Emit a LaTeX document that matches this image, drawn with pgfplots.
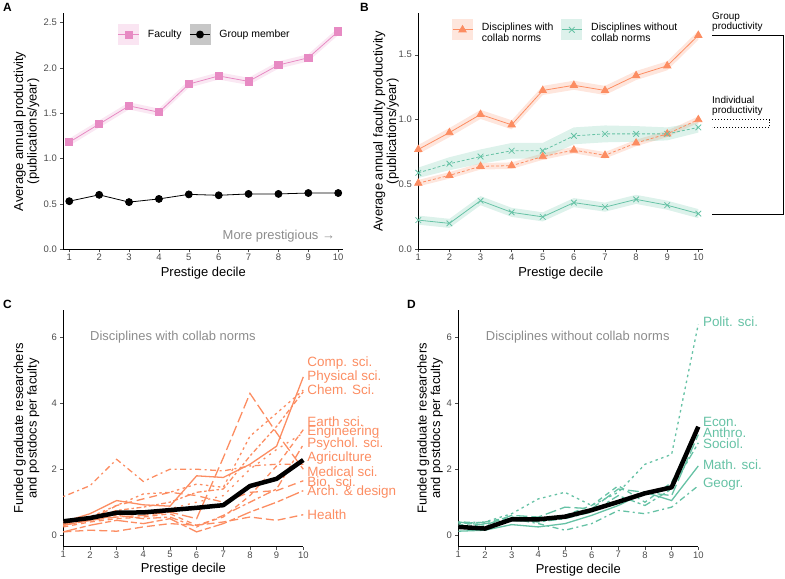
\documentclass[border=0pt]{standalone}
\usepackage{pgfplots}
\pgfplotsset{compat=1.18}
\usepgfplotslibrary{fillbetween}
\usepackage{pgfplotstable}
\usepackage{fontspec}
\setmainfont{Liberation Sans}
\definecolor{fac}{HTML}{E78AC3}
\definecolor{org}{HTML}{FC8D62}
\definecolor{grn}{HTML}{66C2A5}
\definecolor{tickgray}{HTML}{4D4D4D}
\definecolor{anngray}{HTML}{8C8C8C}

\pgfplotstableread{
x fac flo fhi grp
1 1.18 1.14 1.22 0.53
2 1.38 1.34 1.42 0.60
3 1.58 1.54 1.62 0.52
4 1.51 1.47 1.55 0.555
5 1.82 1.78 1.86 0.605
6 1.91 1.87 1.95 0.595
7 1.85 1.81 1.89 0.61
8 2.03 1.99 2.07 0.61
9 2.11 2.07 2.15 0.62
10 2.40 2.36 2.44 0.62
}\tA

\pgfplotstableread{
x cs cslo cshi ci cilo cihi ns nslo nshi ni nilo nihi
1 0.77 0.735 0.805 0.51 0.485 0.535 0.225 0.19 0.26 0.59 0.55 0.63
2 0.90 0.865 0.935 0.57 0.545 0.595 0.20 0.165 0.235 0.66 0.61 0.71
3 1.04 1.005 1.075 0.64 0.615 0.665 0.375 0.34 0.41 0.715 0.66 0.77
4 0.96 0.925 0.995 0.645 0.62 0.67 0.285 0.25 0.32 0.76 0.70 0.82
5 1.225 1.19 1.26 0.715 0.69 0.74 0.25 0.215 0.285 0.76 0.70 0.82
6 1.265 1.23 1.30 0.765 0.74 0.79 0.36 0.325 0.395 0.875 0.81 0.94
7 1.225 1.19 1.26 0.725 0.70 0.75 0.325 0.29 0.36 0.89 0.825 0.955
8 1.34 1.305 1.375 0.82 0.795 0.845 0.385 0.35 0.42 0.89 0.83 0.95
9 1.415 1.38 1.45 0.89 0.865 0.915 0.34 0.305 0.375 0.89 0.84 0.94
10 1.65 1.615 1.685 1.00 0.975 1.025 0.275 0.24 0.31 0.94 0.90 0.98
}\tB

\pgfplotstableread{
x comp phys chem earth eng psych agri med bio arch health mean
1 0.40 0.30 0.35 0.25 0.45 0.30 1.17 0.30 0.35 0.10 0.10 0.42
2 0.65 0.55 0.50 0.40 0.55 0.45 1.50 0.45 0.45 0.30 0.15 0.52
3 1.05 0.90 0.75 0.50 0.70 0.60 2.30 0.55 0.90 0.45 0.12 0.68
4 0.92 1.25 0.85 0.55 0.70 0.50 1.63 0.60 1.10 0.35 0.25 0.69
5 0.88 1.30 1.00 0.65 0.80 0.55 2.00 0.70 1.30 0.50 0.35 0.76
6 1.80 1.55 1.30 0.30 1.00 0.25 2.00 0.50 1.20 0.10 0.30 0.83
7 1.75 1.45 1.40 0.55 1.20 0.60 1.95 2.35 1.00 0.35 0.40 0.91
8 2.15 3.00 2.40 1.20 2.00 1.00 2.10 4.30 1.30 0.70 0.55 1.49
9 2.70 3.70 3.30 2.10 2.60 1.40 2.15 3.10 1.35 1.00 0.45 1.71
10 4.80 4.40 4.35 3.20 3.10 2.75 2.15 2.00 1.65 1.35 0.62 2.28
}\tC

\pgfplotstableread{
x polit econ anthro sociol math geogr mean
1 0.35 0.30 0.40 0.20 0.12 0.40 0.25
2 0.40 0.40 0.30 0.35 0.15 0.38 0.20
3 0.65 0.55 0.60 0.45 0.32 0.50 0.48
4 1.10 0.50 0.55 0.40 0.25 0.35 0.48
5 1.30 0.60 0.85 0.50 0.35 0.15 0.56
6 0.90 0.90 0.80 0.70 0.60 0.35 0.76
7 1.30 1.50 1.40 1.20 0.90 0.75 1.01
8 2.15 1.00 1.30 0.90 1.30 0.65 1.27
9 2.45 1.60 1.20 1.40 1.05 0.85 1.45
10 6.40 3.30 3.05 2.80 2.10 1.50 3.29
}\tD

\tikzset{
 lt1/.style={solid},
 lt2/.style={dash pattern=on 5bp off 4bp},
 lt3/.style={dash pattern=on 8bp off 4bp},
 lt4/.style={dash pattern=on 2.5bp off 3.5bp},
 lt5/.style={dash pattern=on 2bp off 3.5bp on 6bp off 3.5bp},
 lt6/.style={dash pattern=on 11bp off 4bp},
 lt7/.style={dash pattern=on 3bp off 3bp on 8bp off 3bp},
 lt8/.style={dash pattern=on 5bp off 2.5bp on 2.5bp off 2.5bp},
 lt9/.style={dash pattern=on 14bp off 3bp on 6bp off 3bp},
 lt10/.style={dash pattern=on 2bp off 5bp},
 lt11/.style={dash pattern=on 8bp off 5bp},
}

\pgfplotsset{
  base/.style={
    scale only axis,
    axis lines=left,
    axis line style={-, line width=0.6pt, black},
    tick align=outside,
    major tick length=3bp,
    tick style={line width=0.5pt, color=tickgray},
    ticklabel style={font=\fontsize{9.5}{9.5}\selectfont, text=tickgray},
    xticklabel style={inner sep=1.5bp},
    /pgf/number format/assume math mode=true,
    xtick={1,2,3,4,5,6,7,8,9,10},
    label style={font=\fontsize{13}{13.5}\selectfont, align=center},
    clip=false,
  },
  legimg/.style={legend image code/.code={
      \fill[#1] (0bp,-10bp) rectangle (20bp,10bp);
      \draw[mark repeat=2,mark phase=2] plot coordinates {(0bp,0bp) (10bp,0bp) (20bp,0bp)};}},
}

\begin{document}
\begin{tikzpicture}

% ---------------- Panel A
\begin{axis}[base, at={(63.3bp,329.7bp)}, anchor=south west,
  width=280bp, height=236bp,
  xmin=0.8, xmax=10.17, ymin=0, ymax=2.6,
  ytick={0,0.5,1,1.5,2,2.5},
  yticklabel style={/pgf/number format/.cd, fixed, fixed zerofill, precision=1},
  xlabel={Prestige decile},
  ylabel={Average annual productivity\\(publications/year)},
  xlabel style={at={(axis description cs:0.5,-0.076)}, anchor=north, inner sep=0pt},
  ylabel style={at={(axis description cs:-0.085,0.5)}, anchor=south, inner sep=0pt},
  legend columns=2,
  legend style={at={(axis description cs:0.195,0.955)}, anchor=north west,
    draw=none, fill=none, inner sep=0pt,
    font=\fontsize{10.5}{11.5}\selectfont,
    column sep=7bp, /tikz/every even column/.append style={column sep=6bp}},
]
\addplot[draw=none, name path=fhi, forget plot] table[x=x,y=fhi]{\tA};
\addplot[draw=none, name path=flo, forget plot] table[x=x,y=flo]{\tA};
\addplot[fill=fac, fill opacity=0.2, draw=none, forget plot] fill between[of=fhi and flo];
\addplot[fac, line width=0.8pt, mark=square*, mark size=3.6bp, forget plot] table[x=x,y=fac]{\tA};
\addplot[black, line width=0.8pt, mark=*, mark size=3.5bp, forget plot] table[x=x,y=grp]{\tA};
\addlegendimage{fac, line width=0.8pt, mark=square*, mark size=3.6bp, legimg={fac!22}}
\addlegendentry{Faculty}
\addlegendimage{black, line width=0.8pt, mark=*, mark size=3.5bp, legimg={black!22}}
\addlegendentry{Group member}
\node[anchor=east, text=anngray, font=\fontsize{13}{13}\selectfont, inner sep=0pt] at (axis cs:9.9,0.14) {More prestigious →};
\end{axis}

% ---------------- Panel B
\begin{axis}[base, at={(418.3bp,329.7bp)}, anchor=south west,
  width=285bp, height=236bp,
  xmin=1, xmax=10.16, ymin=0, ymax=1.82,
  ytick={0,0.5,1,1.5},
  yticklabel style={/pgf/number format/.cd, fixed, fixed zerofill, precision=1},
  xlabel={Prestige decile},
  ylabel={Average annual faculty productivity\\(publications/year)},
  xlabel style={at={(axis description cs:0.5,-0.075)}, anchor=north, inner sep=0pt},
  ylabel style={at={(axis description cs:-0.068,0.5)}, anchor=south, inner sep=0pt},
  legend columns=2,
  legend style={at={(axis description cs:0.118,0.975)}, anchor=north west,
    draw=none, fill=none, inner sep=0pt,
    font=\fontsize{10.5}{11.7}\selectfont,
    column sep=7bp, /tikz/every even column/.append style={column sep=6bp}},
]
\addplot[draw=none, name path=a1, forget plot] table[x=x,y=cshi]{\tB};
\addplot[draw=none, name path=a2, forget plot] table[x=x,y=cslo]{\tB};
\addplot[fill=org, fill opacity=0.22, draw=none, forget plot] fill between[of=a1 and a2];
\addplot[draw=none, name path=b1, forget plot] table[x=x,y=cihi]{\tB};
\addplot[draw=none, name path=b2, forget plot] table[x=x,y=cilo]{\tB};
\addplot[fill=org, fill opacity=0.22, draw=none, forget plot] fill between[of=b1 and b2];
\addplot[draw=none, name path=c1, forget plot] table[x=x,y=nshi]{\tB};
\addplot[draw=none, name path=c2, forget plot] table[x=x,y=nslo]{\tB};
\addplot[fill=grn, fill opacity=0.22, draw=none, forget plot] fill between[of=c1 and c2];
\addplot[draw=none, name path=d1, forget plot] table[x=x,y=nihi]{\tB};
\addplot[draw=none, name path=d2, forget plot] table[x=x,y=nilo]{\tB};
\addplot[fill=grn, fill opacity=0.22, draw=none, forget plot] fill between[of=d1 and d2];
\addplot[org, line width=0.8pt, mark=triangle*, mark size=4.2bp, forget plot] table[x=x,y=cs]{\tB};
\addplot[org, line width=0.8pt, dash pattern=on 3bp off 2bp, mark=triangle*, mark size=4.2bp, mark options={solid}, forget plot] table[x=x,y=ci]{\tB};
\addplot[grn, line width=0.8pt, mark=x, mark size=4bp, mark options={solid}, forget plot] table[x=x,y=ns]{\tB};
\addplot[grn, line width=0.8pt, dash pattern=on 3bp off 2bp, mark=x, mark size=4bp, mark options={solid}, forget plot] table[x=x,y=ni]{\tB};
\addlegendimage{org, line width=0.8pt, mark=triangle*, mark size=4.2bp, legimg={org!22}}
\addlegendentry{\begin{tabular}{@{}l@{}}Disciplines with\\collab norms\end{tabular}}
\addlegendimage{grn, line width=0.8pt, mark=x, mark size=4bp, legimg={grn!22}}
\addlegendentry{\begin{tabular}{@{}l@{}}Disciplines without\\collab norms\end{tabular}}
\draw[black, line width=0.7pt] (axis cs:10.44,1.647) -- (axis cs:12.72,1.647) -- (axis cs:12.72,0.273) -- (axis cs:10.44,0.273);
\draw[black, line width=0.8pt, dash pattern=on 1bp off 2bp] (axis cs:10.44,0.998) -- (axis cs:12.3,0.998) -- (axis cs:12.3,0.942) -- (axis cs:10.44,0.942);
\node[anchor=north west, align=left, inner sep=0pt, font=\fontsize{10}{10.5}\selectfont] at (axis cs:10.44,1.83) {Group\\productivity};
\node[anchor=north west, align=left, inner sep=0pt, font=\fontsize{10}{10.5}\selectfont] at (axis cs:10.44,1.185) {Individual\\productivity};
\end{axis}

% ---------------- Panel C
\begin{axis}[base, at={(63.3bp,32.3bp)}, anchor=south west,
  width=240bp, height=236.7bp,
  xmin=1, xmax=10, ymin=-0.35, ymax=6.83,
  ytick={0,2,4,6},
  xlabel={Prestige decile},
  ylabel={Funded graduate researchers\\and postdocs per faculty},
  xlabel style={at={(axis description cs:0.5,-0.068)}, anchor=north, inner sep=0pt},
  ylabel style={at={(axis description cs:-0.099,0.5)}, anchor=south, inner sep=0pt},
]
\addplot[org, line width=1.3bp, lt1] table[x=x,y=comp]{\tC};
\addplot[org, line width=1.3bp, lt4] table[x=x,y=phys]{\tC};
\addplot[org, line width=1.3bp, lt8] table[x=x,y=chem]{\tC};
\addplot[org, line width=1.3bp, lt2] table[x=x,y=earth]{\tC};
\addplot[org, line width=1.3bp, lt10] table[x=x,y=eng]{\tC};
\addplot[org, line width=1.3bp, lt7] table[x=x,y=psych]{\tC};
\addplot[org, line width=1.3bp, lt5] table[x=x,y=agri]{\tC};
\addplot[org, line width=1.3bp, lt6] table[x=x,y=med]{\tC};
\addplot[org, line width=1.3bp, lt11] table[x=x,y=bio]{\tC};
\addplot[org, line width=1.3bp, lt9] table[x=x,y=arch]{\tC};
\addplot[org, line width=1.3bp, lt3] table[x=x,y=health]{\tC};
\addplot[black, line width=4.5bp, line join=round] table[x=x,y=mean]{\tC};
\node[anchor=west, text=anngray, font=\fontsize{13}{13}\selectfont, inner sep=0pt] at (axis cs:2.0,6) {Disciplines with collab norms};
\begin{scope}[every node/.style={anchor=west, text=org, font=\fontsize{13.5}{13.5}\selectfont, inner sep=0pt}]
\node at (axis cs:10.15,5.23) {Comp. sci.};
\node at (axis cs:10.15,4.80) {Physical sci.};
\node at (axis cs:10.15,4.40) {Chem. Sci.};
\node at (axis cs:10.15,3.44) {Earth sci.};
\node at (axis cs:10.15,3.14) {Engineering};
\node at (axis cs:10.15,2.75) {Psychol. sci.};
\node at (axis cs:10.15,2.35) {Agriculture};
\node at (axis cs:10.15,1.94) {Medical sci.};
\node at (axis cs:10.15,1.62) {Bio. sci.};
\node at (axis cs:10.15,1.30) {Arch. \& design};
\node at (axis cs:10.15,0.63) {Health};
\end{scope}
\end{axis}

% ---------------- Panel D
\begin{axis}[base, at={(458.3bp,32.3bp)}, anchor=south west,
  width=240bp, height=236.7bp,
  xmin=1, xmax=10, ymin=-0.35, ymax=6.83,
  ytick={0,2,4,6},
  xlabel={Prestige decile},
  ylabel={Funded graduate researchers\\and postdocs per faculty},
  xlabel style={at={(axis description cs:0.5,-0.072)}, anchor=north, inner sep=0pt},
  ylabel style={at={(axis description cs:-0.064,0.5)}, anchor=south, inner sep=0pt},
]
\addplot[grn, line width=1.3bp, lt4] table[x=x,y=polit]{\tD};
\addplot[grn, line width=1.3bp, lt2] table[x=x,y=econ]{\tD};
\addplot[grn, line width=1.3bp, lt6] table[x=x,y=anthro]{\tD};
\addplot[grn, line width=1.3bp, lt7] table[x=x,y=sociol]{\tD};
\addplot[grn, line width=1.3bp, lt1] table[x=x,y=math]{\tD};
\addplot[grn, line width=1.3bp, lt5] table[x=x,y=geogr]{\tD};
\addplot[black, line width=4.5bp, line join=round] table[x=x,y=mean]{\tD};
\node[anchor=west, text=anngray, font=\fontsize{13}{13}\selectfont, inner sep=0pt] at (axis cs:2.03,6) {Disciplines without collab norms};
\begin{scope}[every node/.style={anchor=west, text=grn, font=\fontsize{13.5}{13.5}\selectfont, inner sep=0pt}]
\node at (axis cs:10.17,6.48) {Polit. sci.};
\node at (axis cs:10.17,3.44) {Econ.};
\node at (axis cs:10.17,3.12) {Anthro.};
\node at (axis cs:10.17,2.78) {Sociol.};
\node at (axis cs:10.17,2.13) {Math. sci.};
\node at (axis cs:10.17,1.55) {Geogr.};
\end{scope}
\end{axis}

\begin{scope}[every node/.style={anchor=north west, inner sep=0pt, font=\bfseries\fontsize{12}{12}\selectfont}]
\node at (3bp,576bp) {A};
\node at (360bp,576bp) {B};
\node at (3bp,279bp) {C};
\node at (407bp,279bp) {D};
\end{scope}
\pgfresetboundingbox
\path[use as bounding box] (0bp,0bp) rectangle (785bp,579bp);
\end{tikzpicture}
\end{document}
